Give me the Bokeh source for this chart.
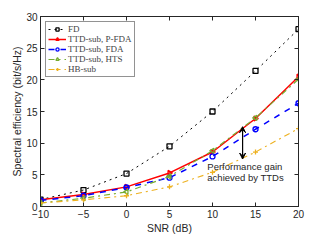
from bokeh.plotting import figure
from bokeh.models import LinearAxis, Range1d, FixedTicker, Arrow, VeeHead, Label, CustomJSTickFormatter
from bokeh.embed import file_html
from bokeh.resources import INLINE

snr = [-10, -5, 0, 5, 10, 15, 20]
fd = [1.1, 2.6, 5.2, 9.5, 15.0, 21.4, 28.0]
p_fda = [1.05, 1.9, 3.1, 5.3, 8.6, 13.9, 20.5]
fda = [0.95, 1.7, 3.0, 4.55, 7.9, 12.2, 16.3]
hts = [0.55, 1.3, 2.3, 4.75, 8.8, 14.0, 20.1]
hb = [0.55, 1.05, 1.7, 3.1, 5.4, 8.6, 12.3]
x_ticks = [-10, -5, 0, 5, 10, 15, 20]
y_ticks = [0, 5, 10, 15, 20, 25, 30]
arrow_x = 13.5
arrow_y = [7.5, 12.6]
note = ["Performance gain", "achieved by TTDs"]
x_title = "SNR (dB)"
y_title = "Spectral efficiency (bit/s/Hz)"

p = figure(width=322, height=236, output_backend="svg", toolbar_location=None,
           x_range=Range1d(-10, 20), y_range=Range1d(0, 30),
           min_border_left=40, min_border_right=24, min_border_top=16, min_border_bottom=26)
p.grid.visible = False
p.outline_line_color = "#262626"
p.outline_line_width = 1
p.background_fill_color = "white"
p.border_fill_color = "white"

for ax in [p.xaxis[0], p.yaxis[0]]:
    ax.major_tick_in = 4
    ax.major_tick_out = 0
    ax.minor_tick_in = 0
    ax.minor_tick_out = 0
    ax.axis_line_color = "#262626"
    ax.major_tick_line_color = "#262626"
    ax.major_label_text_font = "Liberation Sans"
    ax.major_label_text_font_size = "10px"
    ax.major_label_text_color = "#262626"
    ax.axis_label_text_font = "Liberation Sans"
    ax.axis_label_text_font_size = "10.5px"
    ax.axis_label_text_font_style = "normal"
    ax.axis_label_text_color = "#262626"
p.xaxis[0].ticker = FixedTicker(ticks=x_ticks)
p.yaxis[0].ticker = FixedTicker(ticks=y_ticks)
p.xaxis[0].axis_label = x_title
p.yaxis[0].axis_label = y_title
p.xaxis[0].major_label_standoff = 3
p.xaxis[0].axis_label_standoff = 1
p.yaxis[0].major_label_standoff = 3
p.yaxis[0].axis_label_standoff = 0

blank = CustomJSTickFormatter(code="return ''")
for loc, tk in [("above", x_ticks), ("right", y_ticks)]:
    a = LinearAxis(ticker=FixedTicker(ticks=tk), major_tick_in=4, major_tick_out=0,
                   minor_tick_in=0, minor_tick_out=0, formatter=blank,
                   major_label_standoff=0, axis_label_standoff=0, axis_line_color="#262626",
                   major_tick_line_color="#262626")
    p.add_layout(a, loc)

series = [
    ("FD", fd, "black", "dotted", "square", 1.0),
    ("TTD-sub, P-FDA", p_fda, "red", "solid", "triangle", 1.5),
    ("TTD-sub, FDA", fda, "blue", "dashed", "circle", 1.5),
    ("TTD-sub, HTS", hts, "#77AC30", "dashdot", "triangle", 1.2),
    ("HB-sub", hb, "#EDB120", "dashdot", "cross", 1.1),
]
angles = {"FD": 0, "TTD-sub, P-FDA": -1.5708, "TTD-sub, FDA": 0, "TTD-sub, HTS": 1.5708, "HB-sub": 0}
for name, ys, col, dash, mk, lw in series:
    p.line(snr, ys, line_color=col, line_dash=dash, line_width=lw, legend_label=name)
    p.scatter(snr, ys, marker=mk, size=5, line_color=col, fill_color=None,
              line_width=1.3, angle=angles[name], legend_label=name)

arr = Arrow(x_start=arrow_x, y_start=arrow_y[0], x_end=arrow_x, y_end=arrow_y[1],
            line_color="black", line_width=1.2,
            end=VeeHead(size=6, line_color="black", fill_color="black", line_width=1),
            start=VeeHead(size=6, line_color="black", fill_color="black", line_width=1))
p.add_layout(arr)
p.add_layout(Label(x=9.4, y=6.3, text=note[0], text_font="Liberation Sans",
                   text_font_size="9.5px", text_color="#262626", text_baseline="middle"))
p.add_layout(Label(x=9.4, y=4.55, text=note[1], text_font="Liberation Sans",
                   text_font_size="9.5px", text_color="#262626", text_baseline="middle"))

lg = p.legend[0]
lg.location = "top_left"
lg.margin = 5
lg.padding = 2
lg.spacing = 0
lg.label_text_font = "Liberation Serif"
lg.label_text_font_size = "9px"
lg.label_height = 8
lg.glyph_height = 8
lg.glyph_width = 18
lg.label_standoff = 2
lg.border_line_color = "#262626"
lg.border_line_width = 1
lg.background_fill_alpha = 1

open("out.html", "w").write(file_html(p, INLINE))
